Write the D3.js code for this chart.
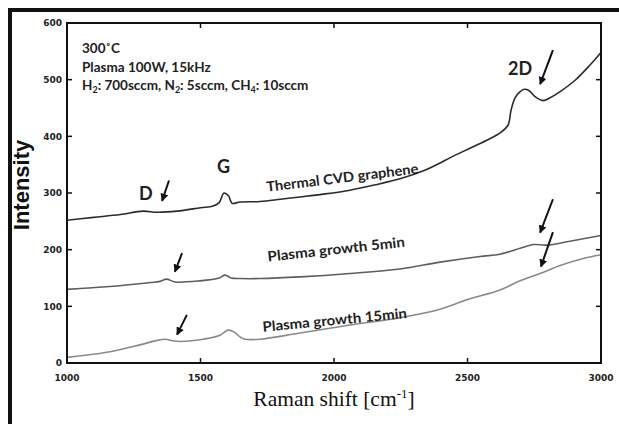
<!DOCTYPE html>
<meta charset="utf-8">
<style>
body { margin: 0; background: #fff; }
.tick-label { font-family: "DejaVu Sans", sans-serif; font-weight: bold; font-size: 9px; fill: #222; }
.note { font-family: Lato, "Open Sans", sans-serif; font-weight: bold; fill: #222; }
</style>
<svg width="619" height="424"></svg>
<script src="https://d3js.org/d3.v7.min.js"></script>
<script>

// Raman spectra: [shift cm-1, intensity]
var thermal = [
  [1000, 252], [1100, 257], [1200, 262], [1285, 268], [1337, 266], [1412, 268],
  [1500, 274], [1547, 277], [1570, 283], [1588, 300], [1605, 295], [1618, 282],
  [1648, 284], [1723, 285], [1800, 289], [1873, 293], [1960, 298], [2060, 305],
  [2150, 314], [2247, 325], [2340, 340], [2397, 353], [2434, 362], [2509, 379],
  [2580, 395], [2622, 406], [2652, 420], [2663, 446], [2678, 468], [2695, 478],
  [2712, 483], [2730, 481], [2753, 470], [2783, 463], [2809, 468], [2847, 479],
  [2903, 499], [2959, 526], [3000, 548]
];
var plasma5 = [
  [1000, 130], [1161, 135], [1311, 142], [1348, 144], [1373, 148], [1404, 143],
  [1498, 145], [1570, 150], [1592, 155], [1615, 150], [1648, 149], [1723, 149],
  [1873, 152], [2060, 158], [2247, 166], [2397, 178], [2547, 188], [2622, 192],
  [2700, 203], [2747, 209], [2797, 208], [2884, 215], [3000, 225]
];
var plasma15 = [
  [1000, 10], [1161, 20], [1273, 32], [1330, 39], [1367, 42], [1400, 39],
  [1423, 38], [1498, 41], [1573, 49], [1603, 58], [1625, 55], [1648, 46],
  [1667, 42], [1723, 42], [1873, 53], [2060, 67], [2247, 80], [2397, 95],
  [2500, 112], [2622, 129], [2697, 145], [2772, 158], [2847, 172], [2930, 184],
  [3000, 191]
];

var xTicks = [1000, 1500, 2000, 2500, 3000];
var yTicks = [0, 100, 200, 300, 400, 500, 600];

// arrows: [fromX, fromY, toX, toY] in data units
var arrows = [
  [1382, 322, 1356, 286],
  [2820, 552, 2772, 492],
  [1431, 194, 1404, 161],
  [1449, 85, 1412, 50],
  [2820, 289, 2772, 230],
  [2820, 231, 2775, 170]
];

var peakLabels = [
  { text: "D", x: 1270, y: 288 },
  { text: "G", x: 1562, y: 335 },
  { text: "2D", x: 2652, y: 508 }
];

var curveLabels = [
  { text: "Thermal CVD graphene", x: 1749, y: 302, angle: -7, len: 153 },
  { text: "Plasma growth 5min", x: 1753, y: 179, angle: -6.2, len: 138 },
  { text: "Plasma growth 15min", x: 1734, y: 55, angle: -5.5, len: 145 }
];

var svg = d3.select("svg");

var pLeft = 67, pRight = 601, pTop = 23, pBottom = 363;

var x = d3.scaleLinear().domain([1000, 3000]).range([pLeft, pRight]);
var y = d3.scaleLinear().domain([0, 600]).range([pBottom, pTop]);

// outer frame (top and left only)
svg.append("path")
  .attr("d", "M10,424V10H619")
  .attr("fill", "none")
  .attr("stroke", "#111")
  .attr("stroke-width", 4);

// inward ticks on all sides
var tk = 5;
var g = svg.append("g").attr("stroke", "#111").attr("stroke-width", 1.5);
xTicks.slice(1, -1).forEach(function (v) {
  g.append("line").attr("x1", x(v)).attr("x2", x(v)).attr("y1", pBottom).attr("y2", pBottom - tk);
  g.append("line").attr("x1", x(v)).attr("x2", x(v)).attr("y1", pTop).attr("y2", pTop + tk);
});
yTicks.slice(1, -1).forEach(function (v) {
  g.append("line").attr("x1", pLeft).attr("x2", pLeft + tk).attr("y1", y(v)).attr("y2", y(v));
  g.append("line").attr("x1", pRight).attr("x2", pRight - tk).attr("y1", y(v)).attr("y2", y(v));
});

svg.selectAll(".xl").data(xTicks).enter().append("text")
  .attr("class", "tick-label")
  .attr("x", function (d) { return x(d); })
  .attr("y", 380.5)
  .attr("text-anchor", "middle")
  .text(function (d) { return d; });

svg.selectAll(".yl").data(yTicks).enter().append("text")
  .attr("class", "tick-label")
  .attr("x", 62)
  .attr("y", function (d) { return y(d) + 3.3; })
  .attr("text-anchor", "end")
  .text(function (d) { return d; });

// spectra
var line = d3.line()
  .x(function (d) { return x(d[0]); })
  .y(function (d) { return y(d[1]); })
  .curve(d3.curveCatmullRom.alpha(0.5));

[[plasma15, "#8a8a8a"], [plasma5, "#5e5e5e"], [thermal, "#2b2b2b"]].forEach(function (s) {
  svg.append("path")
    .attr("d", line(s[0]))
    .attr("fill", "none")
    .attr("stroke", s[1])
    .attr("stroke-width", 1.6);
});

// plot box
svg.append("rect")
  .attr("x", pLeft).attr("y", pTop)
  .attr("width", pRight - pLeft).attr("height", pBottom - pTop)
  .attr("fill", "none")
  .attr("stroke", "#111")
  .attr("stroke-width", 2);

// arrows
svg.append("defs").append("marker")
  .attr("id", "head")
  .attr("viewBox", "0 0 10 10")
  .attr("refX", 9).attr("refY", 5)
  .attr("markerWidth", 4).attr("markerHeight", 4)
  .attr("markerUnits", "strokeWidth")
  .attr("orient", "auto")
  .append("path")
  .attr("d", "M0,0L10,5L0,10z")
  .attr("fill", "#111");

svg.selectAll(".arrow").data(arrows).enter().append("line")
  .attr("x1", function (d) { return x(d[0]); })
  .attr("y1", function (d) { return y(d[1]); })
  .attr("x2", function (d) { return x(d[2]); })
  .attr("y2", function (d) { return y(d[3]); })
  .attr("stroke", "#111")
  .attr("stroke-width", 2)
  .attr("marker-end", "url(#head)");

// peak labels
svg.selectAll(".peak").data(peakLabels).enter().append("text")
  .attr("class", "note")
  .attr("x", function (d) { return x(d.x); })
  .attr("y", function (d) { return y(d.y); })
  .attr("font-size", 18)
  .text(function (d) { return d.text; });

// curve labels
svg.selectAll(".clab").data(curveLabels).enter().append("text")
  .attr("class", "note")
  .attr("font-size", 14)
  .attr("textLength", function (d) { return d.len; })
  .attr("lengthAdjust", "spacingAndGlyphs")
  .attr("transform", function (d) {
    return "translate(" + x(d.x) + "," + y(d.y) + ") rotate(" + d.angle + ")";
  })
  .text(function (d) { return d.text; });

// condition block
var cond = svg.append("text").attr("class", "note").attr("font-size", 13.5);
cond.append("tspan").attr("x", 82).attr("y", 53).text("300˚C");
cond.append("tspan").attr("x", 82).attr("y", 72).text("Plasma 100W, 15kHz");
var l3 = cond.append("tspan").attr("x", 82).attr("y", 90);
var parts = [["H", 0], ["2", 1], [": 700sccm, N", 0], ["2", 1], [": 5sccm, CH", 0], ["4", 1], [": 10sccm", 0]];
parts.forEach(function (p, i) {
  var t = l3.append("tspan").text(p[0]);
  if (p[1]) t.attr("font-size", 9).attr("dy", 3);
  else if (i > 0) t.attr("dy", -3);
});

// axis titles
svg.append("text")
  .attr("x", (pLeft + pRight) / 2)
  .attr("y", 406)
  .attr("text-anchor", "middle")
  .attr("font-family", "'Liberation Serif', 'DejaVu Serif', serif")
  .attr("font-size", 21.5)
  .attr("fill", "#111")
  .html("Raman shift [cm<tspan dy='-8' font-size='13'>-1</tspan><tspan dy='8'>]</tspan>");

svg.append("text")
  .attr("transform", "translate(29,185) rotate(-90)")
  .attr("text-anchor", "middle")
  .attr("font-family", "'Liberation Sans', Arial, sans-serif")
  .attr("font-weight", "bold")
  .attr("font-size", 22)
  .attr("fill", "#111")
  .text("Intensity");

</script>
